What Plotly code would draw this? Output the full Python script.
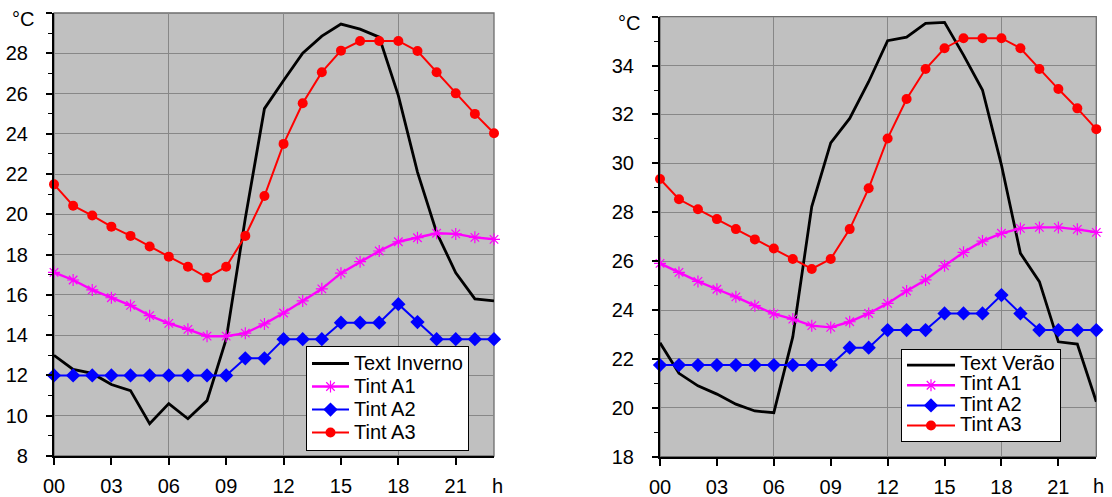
import plotly.graph_objects as go

hours = list(range(24))
x_tickvals = [0, 3, 6, 9, 12, 15, 18, 21]
x_ticktext = ["00", "03", "06", "09", "12", "15", "18", "21"]

# Winter (left)
text_inverno = [13.0, 12.3, 12.1, 11.55, 11.25, 9.6, 10.6, 9.85, 10.75, 13.8, 19.8, 25.25,
                26.65, 28.0, 28.85, 29.45, 29.2, 28.8, 25.9, 22.1, 19.1, 17.1, 15.8, 15.7]
a1_inv = [17.12, 16.74, 16.25, 15.86, 15.48, 14.97, 14.59, 14.29, 13.95, 13.95, 14.1, 14.56,
          15.1, 15.7, 16.3, 17.08, 17.65, 18.18, 18.64, 18.84, 19.06, 19.03, 18.86, 18.76]
a2_inv = [12.0, 12.0, 12.0, 12.0, 12.0, 12.0, 12.0, 12.0, 12.0, 12.0, 12.85, 12.85,
          13.8, 13.8, 13.8, 14.62, 14.62, 14.62, 15.54, 14.65, 13.8, 13.8, 13.8, 13.8]
a3_inv = [21.49, 20.43, 19.94, 19.39, 18.93, 18.4, 17.9, 17.4, 16.86, 17.4, 18.93, 20.91,
          23.5, 25.52, 27.06, 28.13, 28.61, 28.61, 28.61, 28.11, 27.06, 26.01, 24.99, 24.03]

# Summer (right)
text_verao = [22.66, 21.41, 20.9, 20.56, 20.15, 19.87, 19.8, 22.9, 28.23, 30.84, 31.84, 33.34,
              35.02, 35.16, 35.73, 35.77, 34.43, 33.0, 29.93, 26.32, 25.16, 22.7, 22.61, 20.25]
a1_ver = [25.91, 25.54, 25.17, 24.85, 24.54, 24.18, 23.84, 23.63, 23.36, 23.29, 23.52, 23.86,
          24.27, 24.78, 25.23, 25.81, 26.36, 26.82, 27.14, 27.34, 27.38, 27.38, 27.3, 27.18]
a2_ver = [21.75, 21.75, 21.75, 21.75, 21.75, 21.75, 21.75, 21.75, 21.75, 21.75, 22.46, 22.46,
          23.18, 23.18, 23.18, 23.86, 23.86, 23.86, 24.61, 23.86, 23.18, 23.18, 23.18, 23.18]
a3_ver = [29.36, 28.53, 28.12, 27.72, 27.31, 26.89, 26.52, 26.09, 25.68, 26.09, 27.31, 28.98,
          31.02, 32.63, 33.86, 34.71, 35.12, 35.12, 35.12, 34.71, 33.86, 33.04, 32.25, 31.4]

left_yticks = [8, 10, 12, 14, 16, 18, 20, 22, 24, 26, 28, 30]
right_yticks = [18, 20, 22, 24, 26, 28, 30, 32, 34, 36]

FONT = "Liberation Sans, Arial, sans-serif"
BLACK = "#000000"
MAG = "#FF00FF"
BLUE = "#0000FF"
RED = "#FF0000"
GRID = "#878787"


def big(s):
    return "<span style='font-size:20px'>" + s + "</span>"


fig = go.Figure()


def add_series(xa, ya, legend, text_y, text_name, a1, a2, a3):
    fig.add_trace(go.Scatter(x=hours, y=text_y, name=big(text_name), mode="lines",
                             line=dict(color=BLACK, width=2.8), xaxis=xa, yaxis=ya,
                             legend=legend, cliponaxis=False))
    fig.add_trace(go.Scatter(x=hours, y=a1, name=big("Tint A1"), mode="lines+markers",
                             line=dict(color=MAG, width=2.4),
                             marker=dict(symbol="asterisk-open", size=10, color=MAG,
                                         line=dict(color=MAG, width=1.2)),
                             xaxis=xa, yaxis=ya, legend=legend, cliponaxis=False))
    fig.add_trace(go.Scatter(x=hours, y=a2, name=big("Tint A2"), mode="lines+markers",
                             line=dict(color=BLUE, width=2),
                             marker=dict(symbol="diamond", size=11, color=BLUE),
                             xaxis=xa, yaxis=ya, legend=legend, cliponaxis=False))
    fig.add_trace(go.Scatter(x=hours, y=a3, name=big("Tint A3"), mode="lines+markers",
                             line=dict(color=RED, width=2),
                             marker=dict(symbol="circle", size=10, color=RED),
                             xaxis=xa, yaxis=ya, legend=legend, cliponaxis=False))


add_series("x", "y", "legend", text_inverno, "Text Inverno", a1_inv, a2_inv, a3_inv)
add_series("x2", "y2", "legend2", text_verao, "Text Verão", a1_ver, a2_ver, a3_ver)

xaxis_common = dict(
    range=[0, 23], tickmode="array", tickvals=x_tickvals, ticktext=x_ticktext,
    ticks="outside", ticklen=7, tickwidth=1.5, tickcolor=BLACK,
    showgrid=False, zeroline=False, showline=True, linecolor=BLACK, linewidth=2.2,
    tickfont=dict(family=FONT, size=20, color=BLACK), ticklabelstandoff=4,
    minor=dict(tickmode="array", tickvals=[6, 12, 18], showgrid=True,
               gridcolor=GRID, gridwidth=1.3, ticks=""),
    fixedrange=True, automargin=False,
)
yaxis_common = dict(
    tickmode="array", ticks="outside", ticklen=6, tickwidth=1.5, tickcolor=BLACK,
    showgrid=True, gridcolor=GRID, gridwidth=1.3, zeroline=False,
    showline=True, linecolor=BLACK, linewidth=2.2,
    tickfont=dict(family=FONT, size=20, color=BLACK), ticklabelstandoff=14,
    minor=dict(dtick=1, ticks="outside", ticklen=4, tickwidth=1.2, tickcolor=BLACK,
               showgrid=False),
    fixedrange=True, automargin=False,
)

W, H = 1112, 497
fig.update_layout(
    width=W, height=H,
    margin=dict(l=0, r=0, t=0, b=0),
    paper_bgcolor="white", plot_bgcolor="#C0C0C0",
    font=dict(family=FONT, color=BLACK),
    xaxis=dict(xaxis_common, domain=[54 / W, 494 / W], anchor="y"),
    yaxis=dict(yaxis_common, domain=[1 - 456 / H, 1 - 13 / H], anchor="x", range=[8, 30],
               tickvals=left_yticks, ticktext=[str(v) for v in left_yticks[:-1]] + [""]),
    xaxis2=dict(xaxis_common, domain=[660 / W, 1096.3 / W], anchor="y2"),
    yaxis2=dict(yaxis_common, domain=[1 - 456.7 / H, 1 - 16.7 / H], anchor="x2", range=[18, 36],
                tickvals=right_yticks, ticktext=[str(v) for v in right_yticks[:-1]] + [""]),
    legend=dict(x=469 / W, y=1 - 451 / H, xanchor="right", yanchor="bottom",
                bgcolor="white", bordercolor=BLACK, borderwidth=1,
                font=dict(family=FONT, size=15.4, color=BLACK), tracegroupgap=0,
                itemwidth=37),
    legend2=dict(x=1061 / W, y=1 - 442 / H, xanchor="right", yanchor="bottom",
                 bgcolor="white", bordercolor=BLACK, borderwidth=1,
                 font=dict(family=FONT, size=13.2, color=BLACK), tracegroupgap=0,
                 itemwidth=48),
    showlegend=True,
)

# plot-area borders (top/right)
for xr, yr in (("x domain", "y domain"), ("x2 domain", "y2 domain")):
    fig.add_shape(type="rect", xref=xr, yref=yr, x0=0, x1=1, y0=0, y1=1,
                  line=dict(color="#6e6e6e", width=1.3), layer="below")

# unit labels
for xr, yr in (("x domain", "y domain"), ("x2 domain", "y2 domain")):
    fig.add_annotation(text="°C", xref=xr, yref=yr, x=0, y=1, xanchor="right",
                       yanchor="middle", xshift=-18, yshift=-6, showarrow=False,
                       font=dict(family=FONT, size=20, color=BLACK))
for hx in (497, 1098):
    fig.add_annotation(text="h", xref="paper", yref="paper", x=hx / W, y=1 - 486 / H,
                       xanchor="center", yanchor="middle", showarrow=False,
                       borderpad=0, font=dict(family=FONT, size=20, color=BLACK))

fig.write_html("out.html", config={"displayModeBar": False},
               post_script="document.body.style.margin='0';document.body.style.padding='0';")
